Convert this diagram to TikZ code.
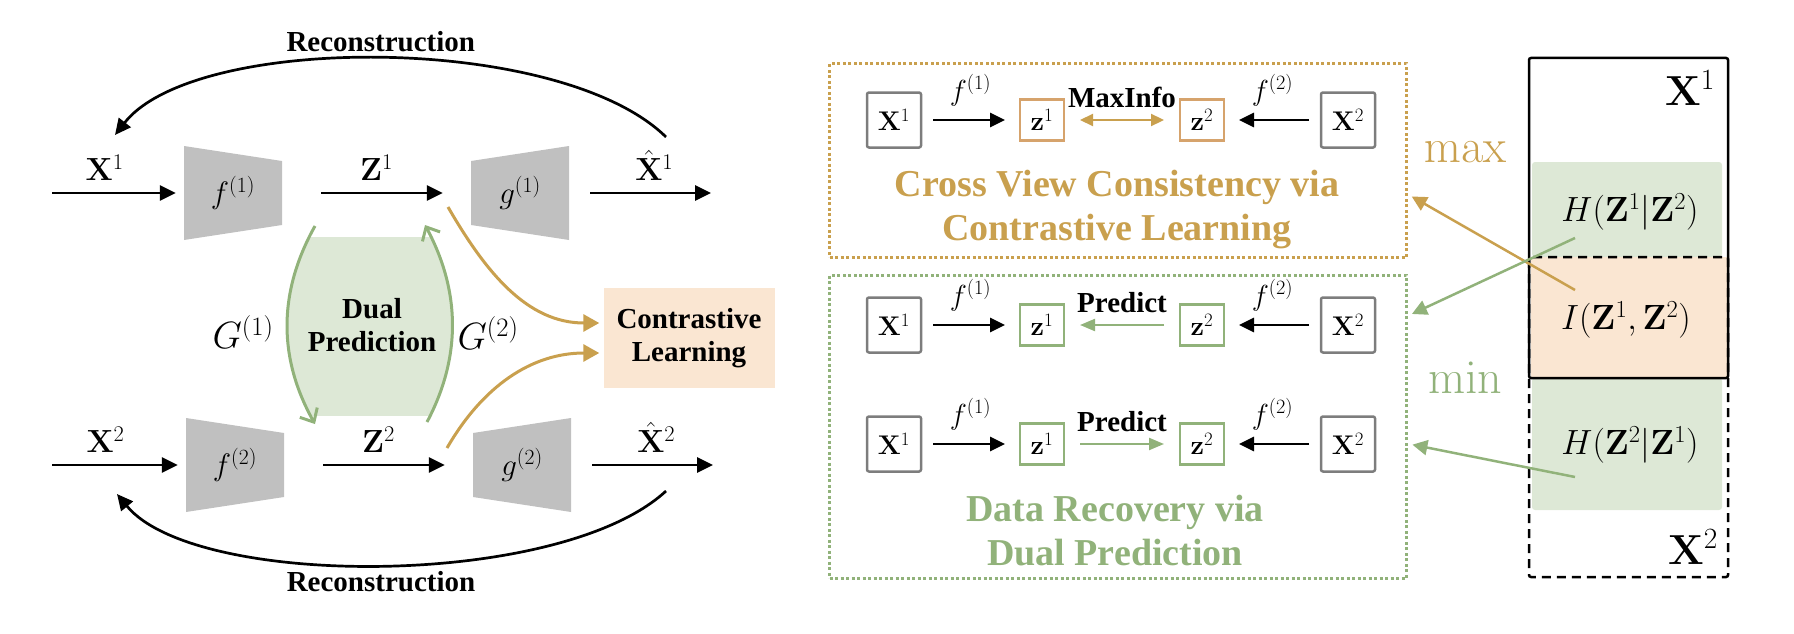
\documentclass[tikz,border=0pt]{standalone}
\usepackage{fix-cm}
\usepackage[no-math]{fontspec}
\setmainfont{Liberation Serif}
\usetikzlibrary{arrows.meta,positioning}
\definecolor{goldc}{RGB}{201,160,78}
\definecolor{greenc}{RGB}{145,178,122}
\definecolor{lgreen}{RGB}{221,232,214}
\definecolor{lorange}{RGB}{250,230,210}
\definecolor{trapgray}{RGB}{192,192,192}
\definecolor{boxgray}{RGB}{125,125,125}
\definecolor{zorange}{RGB}{214,163,108}
\begin{document}
\begin{tikzpicture}[x=1pt,y=1pt]
        \tikzstyle{arrow_style} = [line width=2.7pt,-{Triangle[length=16pt,width=15pt]}]
        \tikzstyle{label_style} = [font=\fontsize{32}{36}\selectfont,inner sep=0pt,above=11pt]
        \tikzstyle{bold_style} = [font=\fontsize{29}{33}\selectfont\bfseries,align=center,inner sep=0pt]
        \tikzstyle{enc_style} = [minimum width=98pt,minimum height=94pt,inner sep=0pt,font=\fontsize{31}{34}\selectfont,
          path picture={\fill[trapgray] (path picture bounding box.north west) -- ([yshift=-15pt]path picture bounding box.north east)
          -- ([yshift=15pt]path picture bounding box.south east) -- (path picture bounding box.south west) -- cycle;}]
        \tikzstyle{dec_style} = [minimum width=98pt,minimum height=94pt,inner sep=0pt,font=\fontsize{31}{34}\selectfont,
          path picture={\fill[trapgray] ([yshift=-15pt]path picture bounding box.north west) -- (path picture bounding box.north east)
          -- (path picture bounding box.south east) -- ([yshift=15pt]path picture bounding box.south west) -- cycle;}]
        \tikzstyle{pred_style} = [greenc,line width=3pt,-{Straight Barb[length=11pt,width=20pt]}]
        \tikzstyle{gold_style} = [goldc,line width=3pt,-{Triangle[length=16pt,width=17pt]},shorten >=4pt]
        \tikzstyle{glabel_style} = [font=\fontsize{38}{40}\selectfont,inner sep=0pt]
        \tikzstyle{dot_style} = [line width=3pt,dash pattern=on 3pt off 2.5pt,inner sep=0pt,outer sep=0pt]
        \tikzstyle{xbox_style} = [draw=boxgray,line width=2.5pt,rounded corners=2pt,minimum width=54pt,minimum height=55pt,
          inner sep=0pt,outer sep=0pt,font=\fontsize{27}{28}\selectfont]
        \tikzstyle{zbox_style} = [line width=2.7pt,minimum width=44pt,minimum height=41pt,inner sep=0pt,outer sep=0pt,
          font=\fontsize{27}{28}\selectfont]
        \tikzstyle{rarrow_style} = [line width=2.7pt,-{Triangle[length=15pt,width=14pt]},shorten <=12pt,shorten >=15pt]
        \tikzstyle{link_style} = [line width=2.2pt,shorten <=16pt,shorten >=16pt]
        \tikzstyle{flabel_style} = [font=\fontsize{29}{31}\selectfont,inner sep=0pt,above=13pt]
        \tikzstyle{word_style} = [font=\fontsize{29}{32}\selectfont\bfseries,inner sep=0pt,above=11pt]
        \tikzstyle{title_style} = [font=\fontsize{38}{44}\selectfont\bfseries,align=center,inner sep=0pt]
        \tikzstyle{rmath_style} = [font=\fontsize{35}{38}\selectfont,inner sep=0pt]
        \tikzstyle{side_style} = [line width=2.5pt,-{Triangle[length=15pt,width=15pt]},shorten >=6pt]
        \useasboundingbox (0,0) rectangle (1794,-634);

        % two views
        \coordinate (in1) at (52,-193);
        \coordinate (in2) at (52,-465);
        \node[enc_style] (f1) at (233,-193) {$f^{(1)}$};
        \node[dec_style] (g1) at (520,-193) {$g^{(1)}$};
        \node[enc_style] (f2) at (235,-465) {$f^{(2)}$};
        \node[dec_style] (g2) at (522,-465) {$g^{(2)}$};
        \coordinate (out1) at (711,-193);
        \coordinate (out2) at (713,-465);
        \draw[arrow_style,shorten >=8pt] (in1) -- node[label_style,pos=.4] {$\mathbf{X}^1$} (f1);
        \draw[arrow_style,shorten <=39pt,shorten >=28pt] (f1) -- node[label_style] {$\mathbf{Z}^1$} (g1);
        \draw[arrow_style,shorten <=21pt] (g1) -- node[label_style,pos=.6] {$\hat{\mathbf{X}}^1$} (out1);
        \draw[arrow_style,shorten >=8pt] (in2) -- node[label_style,pos=.4] {$\mathbf{X}^2$} (f2);
        \draw[arrow_style,shorten <=39pt,shorten >=28pt] (f2) -- node[label_style] {$\mathbf{Z}^2$} (g2);
        \draw[arrow_style,shorten <=21pt] (g2) -- node[label_style,pos=.6] {$\hat{\mathbf{X}}^2$} (out2);

        \coordinate (r1s) at (666,-137);
        \coordinate (r1e) at (115,-135);
        \coordinate (r2s) at (666,-491);
        \coordinate (r2e) at (117,-494);
        \draw[arrow_style] (r1s) .. controls (560,-33) and (195,-33) .. node[bold_style,above=6pt] {Reconstruction} (r1e);
        \draw[arrow_style] (r2s) .. controls (560,-589) and (195,-589) .. node[bold_style,below=5pt] {Reconstruction} (r2e);

        \begin{scope}
          \clip (250,-237) rectangle (470,-415);
          \fill[lgreen] (315,-226) .. controls (278,-292) and (278,-358) .. (315,-424) -- (427,-422)
            .. controls (461,-358) and (461,-292) .. (425,-225) -- cycle;
        \end{scope}
        \node[bold_style] (dp) at (372,-325) {Dual\\Prediction};
        \coordinate (p1s) at (315,-226);
        \coordinate (p1e) at (315,-424);
        \coordinate (p2s) at (427,-422);
        \coordinate (p2e) at (425,-225);
        \draw[pred_style] (p1s) .. controls (278,-292) and (278,-358) .. (p1e);
        \draw[pred_style] (p2s) .. controls (461,-358) and (461,-292) .. (p2e);
        \node[glabel_style] (gl1) at (243,-332) {$G^{(1)}$};
        \node[glabel_style] (gl2) at (488,-333) {$G^{(2)}$};

        \node[bold_style,fill=lorange,minimum width=171pt,minimum height=100pt] (cl) at (689,-338) {Contrastive\\Learning};
        \coordinate (c1s) at (448,-207);
        \coordinate (c2s) at (447,-448);
        \draw[gold_style] (c1s) to[out=-60,in=180] ([yshift=15pt]cl.west);
        \draw[gold_style] (c2s) to[out=60,in=180] ([yshift=-15pt]cl.west);

        % two objectives
        \node[dot_style,draw=goldc,minimum width=577pt,minimum height=193pt] (cv) at (1118,-160.5) {};
        \node[dot_style,draw=greenc,minimum width=577pt,minimum height=303pt] (dr) at (1118,-426.5) {};

        \node[xbox_style] (a1) at (894,-120) {$\mathbf{X}^1$};
        \node[zbox_style,draw=zorange,right=99pt of a1] (a2) {$\mathbf{z}^1$};
        \node[zbox_style,draw=zorange,right=116pt of a2] (a3) {$\mathbf{z}^2$};
        \node[xbox_style,right=97pt of a3] (a4) {$\mathbf{X}^2$};
        \draw[rarrow_style] (a1) -- node[flabel_style] {$f^{(1)}$} (a2);
        \draw[rarrow_style] (a4) -- node[flabel_style] {$f^{(2)}$} (a3);
        \draw[link_style,goldc,{Triangle[length=13pt,width=12pt]}-{Triangle[length=13pt,width=12pt]}] (a2) -- node[word_style,black] {MaxInfo} (a3);

        \node[xbox_style] (b1) at (894,-325) {$\mathbf{X}^1$};
        \node[zbox_style,draw=greenc,right=99pt of b1] (b2) {$\mathbf{z}^1$};
        \node[zbox_style,draw=greenc,right=116pt of b2] (b3) {$\mathbf{z}^2$};
        \node[xbox_style,right=97pt of b3] (b4) {$\mathbf{X}^2$};
        \draw[rarrow_style] (b1) -- node[flabel_style] {$f^{(1)}$} (b2);
        \draw[rarrow_style] (b4) -- node[flabel_style] {$f^{(2)}$} (b3);
        \draw[link_style,greenc,-{Triangle[length=15pt,width=12pt]}] (b3) -- node[word_style,black] {Predict} (b2);

        \node[xbox_style] (c1) at (894,-444) {$\mathbf{X}^1$};
        \node[zbox_style,draw=greenc,right=99pt of c1] (c2) {$\mathbf{z}^1$};
        \node[zbox_style,draw=greenc,right=116pt of c2] (c3) {$\mathbf{z}^2$};
        \node[xbox_style,right=97pt of c3] (c4) {$\mathbf{X}^2$};
        \draw[rarrow_style] (c1) -- node[flabel_style] {$f^{(1)}$} (c2);
        \draw[rarrow_style] (c4) -- node[flabel_style] {$f^{(2)}$} (c3);
        \draw[link_style,greenc,-{Triangle[length=15pt,width=12pt]}] (c2) -- node[word_style,black] {Predict} (c3);

        \node[title_style,goldc] (cvt) at (1117,-210) {Cross View Consistency via\\Contrastive Learning};
        \node[title_style,greenc] (drt) at (1115,-531) {Data Recovery via\\Dual Prediction};

        % information diagram
        \fill[lgreen,rounded corners=3pt] (1532,-162) rectangle (1722,-257);
        \fill[lorange] (1531,-257) rectangle (1727,-378);
        \fill[lgreen,rounded corners=3pt] (1532,-378) rectangle (1722,-510);
        \draw[line width=2.5pt,dash pattern=on 9pt off 6pt,rounded corners=2pt] (1529,-257) rectangle (1728,-577);
        \draw[line width=2.5pt,rounded corners=2pt] (1529,-58) rectangle (1728,-378);
        \node[font=\fontsize{42}{44}\selectfont,inner sep=0pt] (bx1) at (1690,-88) {$\mathbf{X}^1$};
        \node[font=\fontsize{42}{44}\selectfont,inner sep=0pt] (bx2) at (1693,-547) {$\mathbf{X}^2$};
        \node[rmath_style] (hz1) at (1630,-212) {$H(\mathbf{Z}^1|\mathbf{Z}^2)$};
        \node[rmath_style] (iz) at (1626,-320) {$I\big(\mathbf{Z}^1,\mathbf{Z}^2\big)$};
        \node[rmath_style] (hz2) at (1630,-445) {$H(\mathbf{Z}^2|\mathbf{Z}^1)$};
        \node[font=\fontsize{48}{50}\selectfont,text=goldc,inner sep=0pt] (mx) at (1465,-152) {$\max$};
        \node[font=\fontsize{48}{50}\selectfont,text=greenc,inner sep=0pt] (mn) at (1465,-378) {$\min$};
        \coordinate (ia) at (1575,-290);
        \coordinate (ha) at (1575,-238);
        \coordinate (hb) at (1575,-477);
        \draw[side_style,goldc] (ia) -- ([yshift=-33pt]cv.east);
        \draw[side_style,greenc] (ha) -- ([yshift=110pt]dr.east);
        \draw[side_style,greenc] (hb) -- ([yshift=-17pt]dr.east);
      \end{tikzpicture}
\end{document}
